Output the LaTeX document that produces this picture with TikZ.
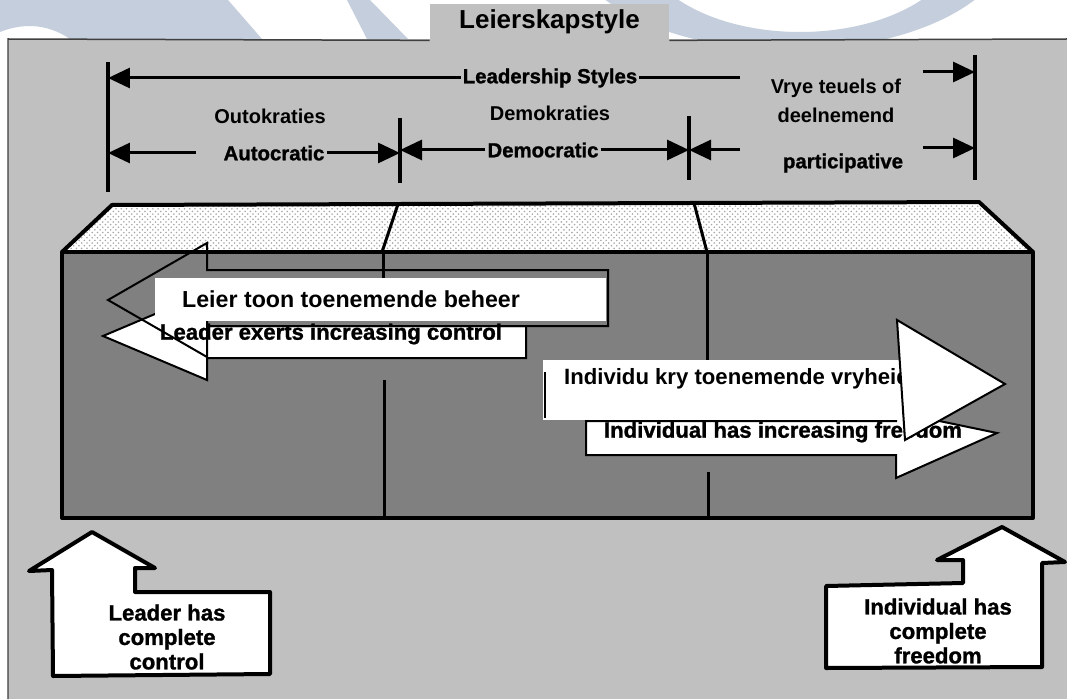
\documentclass[tikz,border=0pt]{standalone}
\usepackage{fontspec}
\setmainfont{Liberation Sans}
\newfontfamily\heavyfont[FakeBold=1.2]{Liberation Sans Bold}
\usetikzlibrary{arrows.meta, patterns}
\definecolor{framegray}{HTML}{C0C0C0}
\definecolor{facegray}{HTML}{808080}
\definecolor{markblue}{HTML}{C4CEDC}
\tikzset{
lbl/.style={font=\fontsize{11.4}{13}\selectfont\bfseries, inner sep=1pt}, % the Afrikaans style names
englbl/.style={font=\fontsize{11.6}{13}\selectfont\heavyfont, inner sep=1pt}, % the English style names
bigtext/.style={font=\fontsize{13.2}{14}\selectfont\bfseries, inner sep=1pt}, % Afrikaans texts on the arrows
engtext/.style={font=\fontsize{12.6}{13.9}\selectfont\heavyfont, inner sep=1pt}, % English texts on the arrows
headline/.style={font=\fontsize{14.8}{16}\selectfont\bfseries, fill=framegray, minimum width=4.78cm, minimum height=0.72cm},
dimline/.style={line width=0.06cm, -{Triangle[length=0.44cm, width=0.4cm]}}, % the dimension arrows
bar/.style={line width=0.08cm}, % the upright limit bars
boxline/.style={line width=0.08cm, line join=round},
flatarrow/.style={fill=white, draw, line width=0.04cm, line join=miter},
uparrow/.style={fill=white, draw, line width=0.08cm, line join=round},
}
\begin{document}
\begin{tikzpicture}[x=0.02cm, y=-0.02cm]
    \useasboundingbox (0,0) rectangle (1067,699);
    \fill[white] (0,0) rectangle (1067,699);

    % watermark behind the sheet
    \fill[markblue] (0,0) -- (228,0) -- (262,39) -- (70,39) .. controls (45,22) and (20,24) .. (0,32) -- cycle;
    \fill[markblue] (347,0) -- (370,0) -- (408,39) -- (367,39) -- cycle;
    \begin{scope}
        \clip (0,0) rectangle (1067,39);
        \fill[markblue, even odd rule] (790,-60) ellipse [x radius=220, y radius=110]
                                       (800,-60) ellipse [x radius=160, y radius=92];
    \end{scope}

    % sheet and heading
    \fill[framegray] (8,39) rectangle (1067,699);
    \node[headline] (title) at (549.5,22) {Leierskapstyle};
    \draw[line width=0.03cm, black!75] (8,699) -- (8,39) -- (title.south west)
                                       (title.south east) -- (1067,39);

    % limit bars
    \coordinate (b0t) at (108,62);  \coordinate (b0b) at (108,192);
    \coordinate (b1t) at (400,118); \coordinate (b1b) at (400,183);
    \coordinate (b2t) at (689,116); \coordinate (b2b) at (689,180);
    \coordinate (b3t) at (975,55);  \coordinate (b3b) at (975,180);
    \foreach \b in {b0,b1,b2,b3}
        \draw[bar] (\b t) -- (\b b);

    % style names
    \node[englbl] (lstyles) at (550,78) {Leadership Styles};
    \node[lbl] (outo) at (270,116) {Outokraties};
    \node[englbl] (auto) at (274,153) {Autocratic};
    \node[lbl] (demok) at (550,113) {Demokraties};
    \node[englbl] (democ) at (543,150) {Democratic};
    \node[lbl] (vrye) at (836,88) {Vrye teuels of};
    \node[lbl] (deel) at (836,115) {deelnemend};
    \node[englbl] (part) at (843,163) {participative};

    \coordinate (lsend) at (740,78);
    \coordinate (autoleft) at (196,153);
    \coordinate (partleft) at (740,150);
    \coordinate (vr1) at (923,72);
    \coordinate (vr2) at (923,148);

    \draw[dimline] (lstyles.west) -- (lstyles.west -| b0t);
    \draw[line width=0.06cm] (lstyles.east) -- (lsend);
    \draw[dimline] (autoleft) -- (autoleft -| b0t);
    \draw[dimline] (auto.east) -- (auto.east -| b1t);
    \draw[dimline] (democ.west) -- (democ.west -| b1t);
    \draw[dimline] (democ.east) -- (democ.east -| b2t);
    \draw[dimline] (partleft) -- (partleft -| b2t);
    \draw[dimline] (vr1) -- (vr1 -| b3t);
    \draw[dimline] (vr2) -- (vr2 -| b3t);

    % the box: dotted top face and dark front face
    \fill[white] (62,252) -- (112,205) -- (979,202) -- (1033,252) -- cycle;
    \fill[pattern=crosshatch dots, pattern color=gray!70] (62,252) -- (112,205) -- (979,202) -- (1033,252) -- cycle;
    \draw[boxline] (62,252) -- (112,205) -- (979,202) -- (1033,252);
    \draw[boxline, fill=facegray] (62,252) rectangle (1033,518);
    \draw[line width=0.06cm] (398,204) -- (382,252)
                             (694,203) -- (707,252);
    \draw[line width=0.06cm] (383,252) -- (383,278)
                             (384,380) -- (384,517)
                             (707,252) -- (707,360)
                             (708,472) -- (708,517);

    % leader arrows, pointing left
    \draw[flatarrow] (103,336) -- (207,292) -- (207,326) -- (526,326) -- (526,358)
                     -- (207,358) -- (207,380) -- cycle;
    \draw[line width=0.04cm] (108,300) -- (207,243) -- (207,270) -- (608,270) -- (608,326)
                             -- (207,326) -- (207,357) -- cycle;
    \fill[white] (155,278) rectangle (606,321);
    \node[bigtext] (leier) at (351,299) {Leier toon toenemende beheer};
    \node[engtext] (leader) at (331,334) {Leader exerts increasing control};

    % individual arrows, pointing right
    \draw[flatarrow] (586,421) -- (896,421) -- (896,412) -- (997,433) -- (896,478)
                     -- (896,455) -- (586,455) -- cycle;
    \node[engtext] (indivh) at (783,432) {Individual has increasing freedom};
    \fill[white] (543,360) rectangle (902,420);
    \draw[line width=0.04cm] (545,372) -- (545,418);
    \node[bigtext, font=\fontsize{12.6}{14}\selectfont\bfseries] (indivk) at (737,379) {Individu kry toenemende vryheid};
    \draw[flatarrow] (897,320) -- (1005,384) -- (905,440) -- cycle;

    % upward arrows below the box
    \draw[uparrow] (92,532) -- (155,568) -- (135,568) -- (135,592) -- (270,592) -- (270,674)
                   -- (53,676) -- (52,570) -- (29,571) -- cycle;
    \node[engtext, align=center] (lcontrol) at (167,637) {Leader has\\complete\\control};
    \draw[uparrow] (1002,527) -- (1065,562) -- (1042,563) -- (1042,667) -- (826,668)
                   -- (826,586) -- (963,583) -- (963,560) -- (937,560) -- cycle;
    \node[engtext, align=center] (ifreedom) at (938,631) {Individual has\\complete\\freedom};
\end{tikzpicture}
\end{document}
